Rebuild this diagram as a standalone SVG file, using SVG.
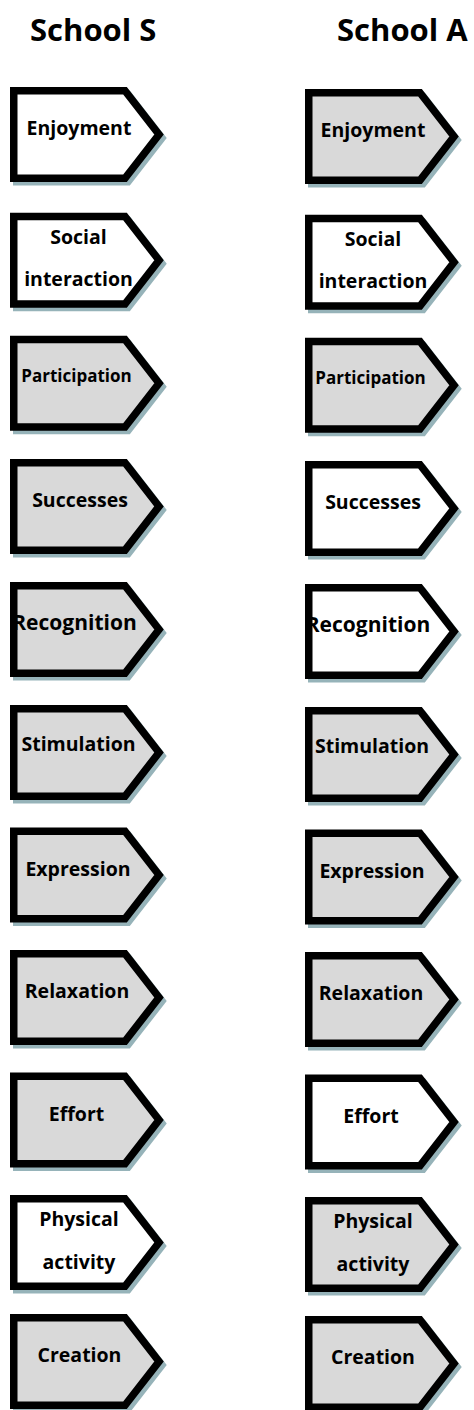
<svg xmlns="http://www.w3.org/2000/svg" width="474" height="1410" viewBox="0 0 474 1410">
<style>
.hdr{font-family:"Open Sans","Liberation Sans",sans-serif;font-weight:700;font-size:31px;fill:#000}
.lbl{font-family:"Open Sans","Liberation Sans",sans-serif;font-weight:700;font-size:19.5px;fill:#000;text-anchor:middle}
.sm{font-size:17px}
.lg{font-size:21px}
.w{fill:#ffffff}
.g{fill:#d9d9d9}
.box{stroke:#000;stroke-width:7.5;stroke-linejoin:miter;stroke-miterlimit:10}
.sh{fill:#96b3b9;stroke:#96b3b9;stroke-width:7.5;stroke-linejoin:miter}
</style>
<defs>
<path id="arrow" d="M3.75,3.75 H115 L149,47.5 L115,91.25 H3.75 Z"/>
</defs>
<g id="headers">
<text class="hdr" x="30" y="41">School S</text>
<text class="hdr" x="337" y="41">School A</text>
</g>
<g id="connectors"></g>
<g id="s-enjoyment" transform="translate(10,87)"><use href="#arrow" class="sh" x="3" y="3.5"/><use href="#arrow" class="box w"/><text class="lbl" x="69" y="48">Enjoyment</text></g>
<g id="s-social" transform="translate(10,212.7)"><use href="#arrow" class="sh" x="3" y="3.5"/><use href="#arrow" class="box w"/><text class="lbl" x="68.5" y="31">Social</text><text class="lbl" x="68.5" y="73">interaction</text></g>
<g id="s-participation" transform="translate(10,335.8)"><use href="#arrow" class="sh" x="3" y="3.5"/><use href="#arrow" class="box g"/><text class="lbl sm" x="66.5" y="46">Participation</text></g>
<g id="s-successes" transform="translate(10,458.9)"><use href="#arrow" class="sh" x="3" y="3.5"/><use href="#arrow" class="box g"/><text class="lbl" x="70" y="48">Successes</text></g>
<g id="s-recognition" transform="translate(10,582)"><use href="#arrow" class="sh" x="3" y="3.5"/><use href="#arrow" class="box g"/><text class="lbl lg" x="64.5" y="48">Recognition</text></g>
<g id="s-stimulation" transform="translate(10,705)"><use href="#arrow" class="sh" x="3" y="3.5"/><use href="#arrow" class="box g"/><text class="lbl" x="68.5" y="46">Stimulation</text></g>
<g id="s-expression" transform="translate(10,827.5)"><use href="#arrow" class="sh" x="3" y="3.5"/><use href="#arrow" class="box g"/><text class="lbl" x="68" y="48">Expression</text></g>
<g id="s-relaxation" transform="translate(10,950)"><use href="#arrow" class="sh" x="3" y="3.5"/><use href="#arrow" class="box g"/><text class="lbl" x="67" y="48">Relaxation</text></g>
<g id="s-effort" transform="translate(10,1072.5)"><use href="#arrow" class="sh" x="3" y="3.5"/><use href="#arrow" class="box g"/><text class="lbl" x="66.5" y="48">Effort</text></g>
<g id="s-physical" transform="translate(10,1195)"><use href="#arrow" class="sh" x="3" y="3.5"/><use href="#arrow" class="box w"/><text class="lbl" x="69" y="31">Physical</text><text class="lbl" x="69" y="74">activity</text></g>
<g id="s-creation" transform="translate(10,1314)"><use href="#arrow" class="sh" x="3" y="3.5"/><use href="#arrow" class="box g"/><text class="lbl" x="69.5" y="48">Creation</text></g>
<g id="a-enjoyment" transform="translate(305,89)"><use href="#arrow" class="sh" x="3" y="3.5"/><use href="#arrow" class="box g"/><text class="lbl" x="68" y="48">Enjoyment</text></g>
<g id="a-social" transform="translate(305,214.7)"><use href="#arrow" class="sh" x="3" y="3.5"/><use href="#arrow" class="box w"/><text class="lbl" x="68" y="31">Social</text><text class="lbl" x="68" y="73">interaction</text></g>
<g id="a-participation" transform="translate(305,337.8)"><use href="#arrow" class="sh" x="3" y="3.5"/><use href="#arrow" class="box g"/><text class="lbl sm" x="65.5" y="46">Participation</text></g>
<g id="a-successes" transform="translate(305,460.9)"><use href="#arrow" class="sh" x="3" y="3.5"/><use href="#arrow" class="box w"/><text class="lbl" x="68" y="48">Successes</text></g>
<g id="a-recognition" transform="translate(305,584)"><use href="#arrow" class="sh" x="3" y="3.5"/><use href="#arrow" class="box w"/><text class="lbl lg" x="63" y="48">Recognition</text></g>
<g id="a-stimulation" transform="translate(305,707)"><use href="#arrow" class="sh" x="3" y="3.5"/><use href="#arrow" class="box g"/><text class="lbl" x="67" y="46">Stimulation</text></g>
<g id="a-expression" transform="translate(305,829.5)"><use href="#arrow" class="sh" x="3" y="3.5"/><use href="#arrow" class="box g"/><text class="lbl" x="67" y="48">Expression</text></g>
<g id="a-relaxation" transform="translate(305,952)"><use href="#arrow" class="sh" x="3" y="3.5"/><use href="#arrow" class="box g"/><text class="lbl" x="66" y="48">Relaxation</text></g>
<g id="a-effort" transform="translate(305,1074.5)"><use href="#arrow" class="sh" x="3" y="3.5"/><use href="#arrow" class="box w"/><text class="lbl" x="66" y="48">Effort</text></g>
<g id="a-physical" transform="translate(305,1197)"><use href="#arrow" class="sh" x="3" y="3.5"/><use href="#arrow" class="box g"/><text class="lbl" x="68" y="31">Physical</text><text class="lbl" x="68" y="74">activity</text></g>
<g id="a-creation" transform="translate(305,1316)"><use href="#arrow" class="sh" x="3" y="3.5"/><use href="#arrow" class="box g"/><text class="lbl" x="68" y="48">Creation</text></g>
</svg>
